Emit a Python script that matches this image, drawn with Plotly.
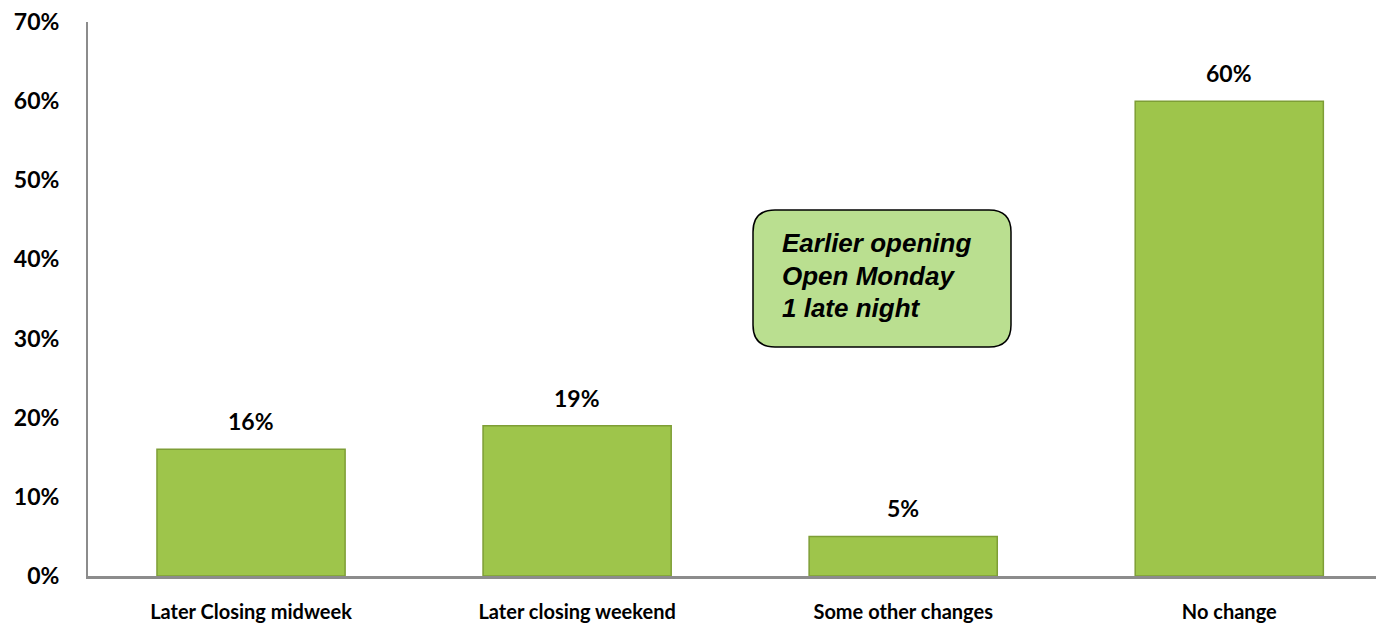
import plotly.graph_objects as go

categories = ["Later Closing midweek", "Later closing weekend", "Some other changes", "No change"]
values = [16, 19, 5, 60]
value_labels = ["16%", "19%", "5%", "60%"]
y_ticks = [0, 10, 20, 30, 40, 50, 60, 70]
y_tick_labels = ["0%", "10%", "20%", "30%", "40%", "50%", "60%", "70%"]
note_lines = ["Earlier opening", "Open Monday", "1 late night"]

W, H = 1376, 625
L, R, T, B = 88, 0, 22, 49

fig = go.Figure()
fig.add_trace(go.Bar(
    x=list(range(len(categories))), y=values, width=0.577,
    marker=dict(color="#9ec54b", line=dict(color="#7e9e36", width=1.5)),
    hoverinfo="skip",
))

for i, (v, lab) in enumerate(zip(values, value_labels)):
    fig.add_annotation(x=i, y=v, text=lab, showarrow=False, yanchor="bottom", yshift=12,
                       font=dict(family="Lato", size=23, color="black", weight="bold"))

# rounded note box (paper coords)
pw, ph = W - L - R, H - T - B
def px(x): return (x - L) / pw
def py(y): return (H - B - y) / ph
x0, x1, yb, yt = px(753), px(1011), py(347), py(210)
rx, ry = 22 / pw, 22 / ph
path = (f"M {x0+rx},{yt} L {x1-rx},{yt} Q {x1},{yt} {x1},{yt-ry} L {x1},{yb+ry} "
        f"Q {x1},{yb} {x1-rx},{yb} L {x0+rx},{yb} Q {x0},{yb} {x0},{yb+ry} "
        f"L {x0},{yt-ry} Q {x0},{yt} {x0+rx},{yt} Z")
fig.add_shape(type="path", path=path, xref="paper", yref="paper",
              fillcolor="#badf90", line=dict(color="black", width=1.5))
for k, line in enumerate(note_lines):
    fig.add_annotation(x=px(780), y=py(243 + 32.5 * k), xref="paper", yref="paper",
                       text=f"<b><i>{line}</i></b>",
                       showarrow=False, xanchor="left", yanchor="middle", align="left",
                       font=dict(family="Liberation Sans", size=26, color="black"))

fig.update_layout(
    width=W, height=H, margin=dict(l=L, r=R, t=T, b=B, autoexpand=False),
    plot_bgcolor="white", paper_bgcolor="white", showlegend=False,
    xaxis=dict(range=[-0.5, 3.45], tickvals=list(range(len(categories))), ticktext=categories,
               showgrid=False, zeroline=False, showline=True, linecolor="#8c8c8c", linewidth=2.5,
               ticks="", ticklabelstandoff=16, automargin=False,
               tickfont=dict(family="Lato", size=20, color="black", weight="bold")),
    yaxis=dict(range=[0, 70], tickvals=y_ticks, ticktext=y_tick_labels,
               showgrid=False, zeroline=False, showline=True, linecolor="#8c8c8c", linewidth=2,
               ticks="", ticklabelstandoff=22, automargin=False,
               tickfont=dict(family="Lato", size=23, color="black", weight="bold")),
)
fig.write_html("out.html", config={"displayModeBar": False},
               post_script="document.body.style.margin='0';document.body.style.overflow='hidden';")
